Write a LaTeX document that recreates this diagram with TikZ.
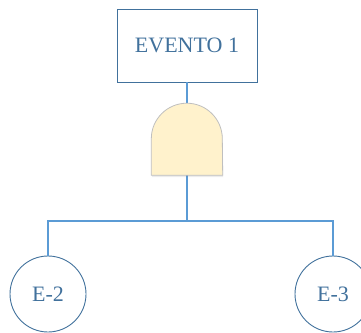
\documentclass[tikz,border=0pt]{standalone}
\usepackage{fontspec}
\setmainfont{Liberation Serif}
\usetikzlibrary{shadows}

\definecolor{evtblue}{HTML}{41719C}
\definecolor{linkblue}{HTML}{5B9BD5}
\definecolor{gatefill}{HTML}{FFF2CC}
\definecolor{gateline}{HTML}{BFBFBF}

\begin{document}
\begin{tikzpicture}[
  x=1pt,
  y=1pt,
  event/.style={
    draw=evtblue,
    line width=0.9pt,
    text=evtblue,
    font=\fontsize{22}{26}\selectfont
  },
  top event/.style={
    event,
    minimum width=140pt,
    minimum height=73pt
  },
  basic event/.style={
    event,
    circle,
    minimum size=76pt,
    inner sep=0pt
  },
  and gate/.style={
    minimum width=71pt,
    minimum height=72pt,
    inner sep=0pt
  },
  gate body/.style={
    draw=gateline,
    fill=gatefill,
    line width=0.8pt,
    drop shadow={shadow xshift=0.5pt, shadow yshift=-2pt, opacity=0.15}
  },
  link/.style={
    draw=linkblue,
    line width=1.4pt
  },
]
\useasboundingbox (0,0) rectangle (361,-332);

\node[top event] (evento) at (187,-45.5) {EVENTO 1};
\node[and gate] (and) at (187,-139) {};
\node[basic event] (e2) at (48,-294) {E-2};
\node[basic event] (e3) at (333,-294) {E-3};
\coordinate (bus) at (187,-221);

% connectors
\draw[link] (evento.south) -- (and.north);
\draw[link] (and.south) -- (bus);
\draw[link] (bus) -| (e2.north);
\draw[link] (bus) -| (e3.north);

% AND gate
\draw[gate body] (and.south west) -- ++(0,36.5)
  arc[start angle=180, end angle=0, radius=35.5] -- (and.south east) -- cycle;
\end{tikzpicture}
\end{document}
